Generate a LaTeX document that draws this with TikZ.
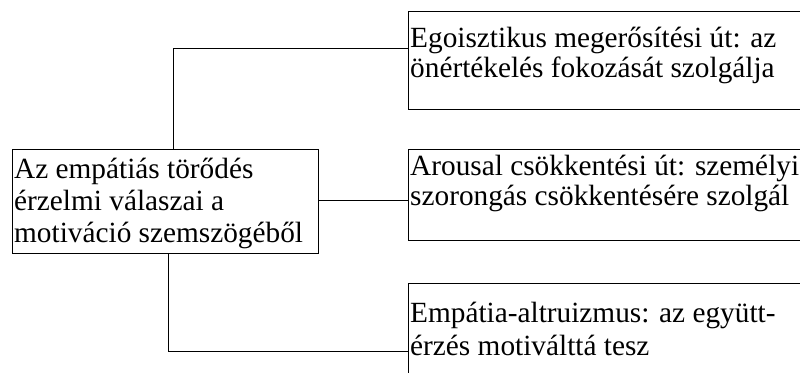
\documentclass[tikz,border=0pt]{standalone}
\usepackage{fontspec}
\setmainfont{Liberation Serif}
\tikzset{
  box/.style={draw=black, line width=1.4pt, rectangle, inner sep=0pt, anchor=north west},
  txt/.style={inner sep=0pt, anchor=base west, font=\fontsize{29.3}{32}\selectfont},
  conn/.style={draw=black, line width=0.9pt}
}
\newcommand{\twolines}[3]{\vtop{\baselineskip=#1\lineskiplimit=-100pt\lineskip=0pt\hbox{#2}\hbox{#3}}}
\newcommand{\threelines}[4]{\vtop{\baselineskip=#1\lineskiplimit=-100pt\lineskip=0pt\hbox{#2}\hbox{#3}\hbox{#4}}}
\begin{document}
\begin{tikzpicture}[x=1pt,y=1pt]
\clip (0,0) rectangle (800,-372);
\fill[white] (0,0) rectangle (800,-372);
% boxes
\node[box, minimum width=306pt, minimum height=104pt] (A) at (12,-149) {};
\node[box, minimum width=414pt, minimum height=98pt] (B) at (408,-11) {};
\node[box, minimum width=414pt, minimum height=91pt] (C) at (408,-149) {};
\node[box, minimum width=414pt, minimum height=107pt] (D) at (408,-283) {};
% texts
\node[txt] (tA) at (14,-178) {\threelines{32pt}{Az empátiás törődés}{érzelmi válaszai a}{motiváció szemszögéből}};
\node[txt] (tB) at (410,-47) {\twolines{30.5pt}{Egoisztikus megerősítési út: az}{önértékelés fokozását szolgálja}};
\node[txt] (tC) at (410,-175) {\twolines{30.5pt}{Arousal csökkentési út: személyi}{szorongás csökkentésére szolgál}};
\node[txt] (tD) at (410,-322) {\twolines{33pt}{Empátia-altruizmus: az együtt-}{érzés motiválttá tesz}};
% connectors
\coordinate (kB) at (173,-48);
\coordinate (kD) at (168,-351);
\draw[conn] (A.north west -| kB) -- (kB) -- (kB -| B.west);
\draw[conn] (A.east |- 0,-200) -- (C.west |- 0,-200);
\draw[conn] (A.south west -| kD) -- (kD) -- (kD -| D.west);
\end{tikzpicture}
\end{document}
